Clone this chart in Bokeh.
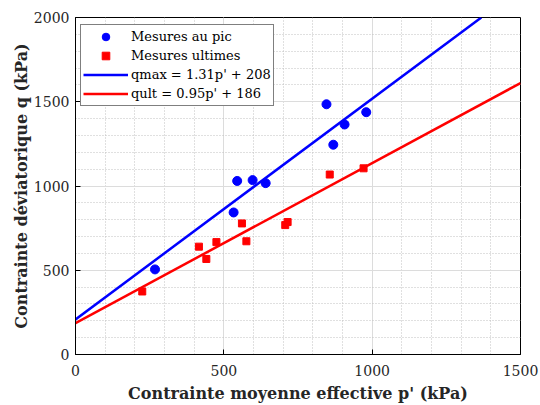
from bokeh.plotting import figure
from bokeh.models import Range1d, SingleIntervalTicker, Legend, LegendItem
from bokeh.embed import file_html
from bokeh.resources import INLINE

# Peak measurements (p', q) in kPa
peak_p = [268, 533, 545, 597, 641, 846, 869, 907, 980]
peak_q = [505, 843, 1030, 1035, 1017, 1485, 1245, 1365, 1438]

# Ultimate measurements (p', q) in kPa
ult_p = [225, 416, 441, 475, 561, 576, 707, 715, 857, 971]
ult_q = [374, 640, 567, 667, 778, 672, 768, 786, 1068, 1105]

# Linear fits q = a p' + b
qmax_a, qmax_b = 1.31, 208
qult_a, qult_b = 0.95, 186

x_ticks = [0, 500, 1000, 1500]
y_ticks = [0, 500, 1000, 1500, 2000]

SERIF = "DejaVu Serif"

p = figure(width=540, height=405, output_backend="svg", toolbar_location=None,
           x_range=Range1d(0, 1500), y_range=Range1d(0, 2000),
           min_border_left=75, min_border_right=20,
           min_border_top=17, min_border_bottom=50)

p.background_fill_color = "white"
p.border_fill_color = "white"
p.outline_line_color = "black"
p.outline_line_width = 1

for ax, ticks in ((p.xaxis, x_ticks), (p.yaxis, y_ticks)):
    ax.ticker = SingleIntervalTicker(interval=500, num_minor_ticks=5)
    ax.major_tick_in = 5
    ax.major_tick_out = 0
    ax.minor_tick_in = 0
    ax.minor_tick_out = 0
    ax.axis_line_color = "black"
    ax.major_tick_line_color = "black"
    ax.major_label_text_font = SERIF
    ax.major_label_text_font_size = "14px"
    ax.major_label_text_color = "#262626"
    ax.axis_label_text_font = SERIF
    ax.axis_label_text_font_style = "bold"
    ax.axis_label_text_font_size = "16px"
    ax.axis_label_text_color = "#262626"

p.xaxis.axis_label = "Contrainte moyenne effective p' (kPa)"
p.yaxis.axis_label = "Contrainte déviatorique q (kPa)"
p.xaxis.major_label_standoff = 10
p.yaxis.major_label_standoff = 6
p.xaxis.axis_label_standoff = 5
p.yaxis.axis_label_standoff = 0

for g in (p.xgrid, p.ygrid):
    g.grid_line_color = "#dcdcdc"
    g.grid_line_width = 1
    g.minor_grid_line_color = "#c0c0c0"
    g.minor_grid_line_dash = "1 2"
    g.minor_grid_line_width = 1

# Fit lines
x_end_max = (2000 - qmax_b) / qmax_a
line_max = p.line([0, x_end_max], [qmax_b, qmax_a * x_end_max + qmax_b],
                  line_color="#0000ff", line_width=2.5)
line_ult = p.line([0, 1500], [qult_b, qult_a * 1500 + qult_b],
                  line_color="#ff0000", line_width=2.5)

# Measurements
pts_peak = p.scatter(peak_p, peak_q, marker="circle", size=9,
                     fill_color="#0000ff", line_color="#0000ff")
pts_ult = p.scatter(ult_p, ult_q, marker="square", size=7,
                    fill_color="#ff0000", line_color="#ff0000")

legend = Legend(items=[
    LegendItem(label="Mesures au pic", renderers=[pts_peak]),
    LegendItem(label="Mesures ultimes", renderers=[pts_ult]),
    LegendItem(label=f"qmax = {qmax_a}p' + {qmax_b}", renderers=[line_max]),
    LegendItem(label=f"qult = {qult_a}p' + {qult_b}", renderers=[line_ult]),
], location=(5, 248))
legend.label_text_font = SERIF
legend.label_text_font_size = "13px"
legend.label_text_color = "black"
legend.label_height = 19
legend.glyph_height = 19
legend.glyph_width = 45
legend.label_standoff = 3
legend.spacing = 0
legend.padding = 2
legend.margin = 0
legend.border_line_color = "black"
legend.border_line_width = 1
legend.background_fill_alpha = 1
p.add_layout(legend, "center")

open("out.html", "w").write(file_html(p, INLINE))
